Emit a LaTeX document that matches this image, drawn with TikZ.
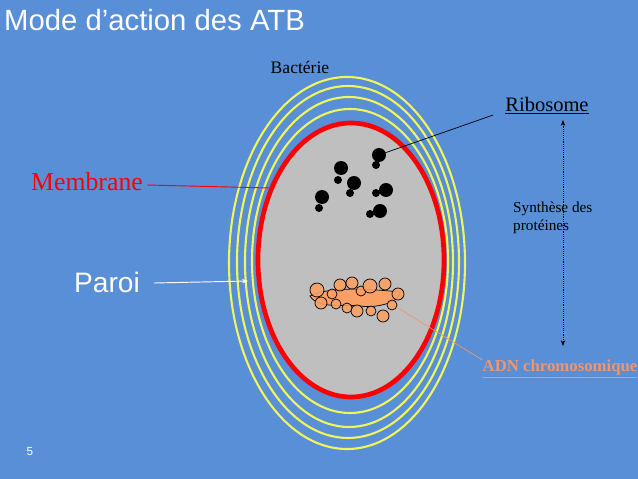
\documentclass[tikz,border=0pt]{standalone}
\usepackage{fontspec}
\setmainfont{Liberation Serif}
\setsansfont{Liberation Sans}
\usetikzlibrary{arrows.meta}
\definecolor{slideblue}{RGB}{88,143,214}
\definecolor{ringyellow}{RGB}{240,245,90}
\definecolor{dnaorange}{RGB}{250,160,100}
\definecolor{adnlabel}{RGB}{240,150,110}
\tikzset{
        ring/.style={draw=ringyellow, line width=1.8pt},
        label/.style={font=\fontsize{21}{24}\selectfont, inner sep=0pt},
        ribobig/.style={fill=black},
        dnaloop/.style={draw=black, fill=dnaorange, line width=0.6pt},
        arrow/.style={-{Stealth[length=5pt]}},
    }
\begin{document}
\begin{tikzpicture}[x=0.03cm, y=-0.03cm]

        % background
        \fill[slideblue] (0,0) rectangle (638,479);
        \useasboundingbox (0,0) rectangle (638,479);
        \node[anchor=west, text=white, font=\sffamily\fontsize{25}{28}\selectfont, inner sep=0pt] (title) at (4,20) {Mode d’action des ATB};
        \node[text=white, font=\sffamily\fontsize{10}{12}\selectfont] (page) at (30,452) {5};

        % === BACTERIA ===
        \draw[ring] (347,263) ellipse (118 and 186);
        \draw[ring] (348,262) ellipse (111 and 176);
        \draw[ring] (349,262) ellipse (104 and 165);
        \draw[ring] (350,261) ellipse (98 and 152);
        \draw[draw=red, fill=black!25, line width=4pt] (351,260) ellipse (93 and 137);
        \node[font=\fontsize{15}{18}\selectfont] (bact) at (300,67) {Bactérie};

        % ribosomes
        \foreach \bx/\by/\sx/\sy [count=\i] in {379/155/376/165, 341/168/338/180, 354/183/350/193,
                                               322/197/319/208, 386/190/376/193, 380/211/370/214} {
            \fill[ribobig] (\bx,\by) circle (7);
            \fill[ribobig] (\sx,\sy) circle (4);
            \coordinate (ribo\i) at (\bx,\by);
        }

        % chromosome
        \draw[dnaloop] (310,296) .. controls (330,286) and (370,289) .. (400,292)
                       .. controls (402,300) and (380,309) .. (360,306)
                       .. controls (340,304) and (318,309) .. (310,296) -- cycle;
        \foreach \lx/\ly/\r in {317/290/7, 321/303/6, 332/294/5, 340/285/6, 352/283/6, 361/291/5,
                                 370/286/7, 385/284/6, 398/294/6, 392/305/5, 383/316/6,
                                 371/311/5, 357/311/6, 347/308/5, 336/304/5} {
            \draw[dnaloop, fill opacity=0.9] (\lx,\ly) circle (\r);
        }
        \coordinate (dna) at (398,308);

        % === LABELS ===
        \node[label, text=red, font=\fontsize{22}{25}\selectfont] (membrane) at (87,182) {Membrane};
        \node[label, text=white!95!yellow, font=\sffamily\fontsize{24}{27}\selectfont] (paroi) at (107,282) {Paroi};
        \node[font=\fontsize{17.5}{20}\selectfont, inner sep=0pt] (ribosome) at (547,106) {\underline{Ribosome}};
        \node[font=\fontsize{13}{15}\selectfont, align=left, anchor=north west, inner sep=0pt] (synth) at (513,202) {Synthèse des\\protéines};
        \node[text=adnlabel, font=\bfseries\fontsize{14.3}{17}\selectfont, inner sep=0pt] (adn) at (560,369) {\underline{ADN chromosomique}};
        \coordinate (syntop) at (563,120);
        \coordinate (synbot) at (563,346);
        \coordinate (membend) at (270,188);
        \coordinate (paroiend) at (248,281);

        \draw[red, line width=0.8pt] (membrane.east) ++(4,3) -- (membend);
        \draw[arrow, white, line width=0.8pt] (paroi.east) ++(14,1) -- (paroiend);
        \draw[arrow, black, line width=0.6pt] (ribosome.west) ++(-12,9) -- (ribo1);
        \draw[{Stealth[length=5pt]}-{Stealth[length=5pt]}, densely dotted, line width=0.6pt] (syntop) -- (synbot);
        \draw[adnlabel, line width=0.6pt] (dna) -- (adn.north west);

    \end{tikzpicture}
\end{document}
